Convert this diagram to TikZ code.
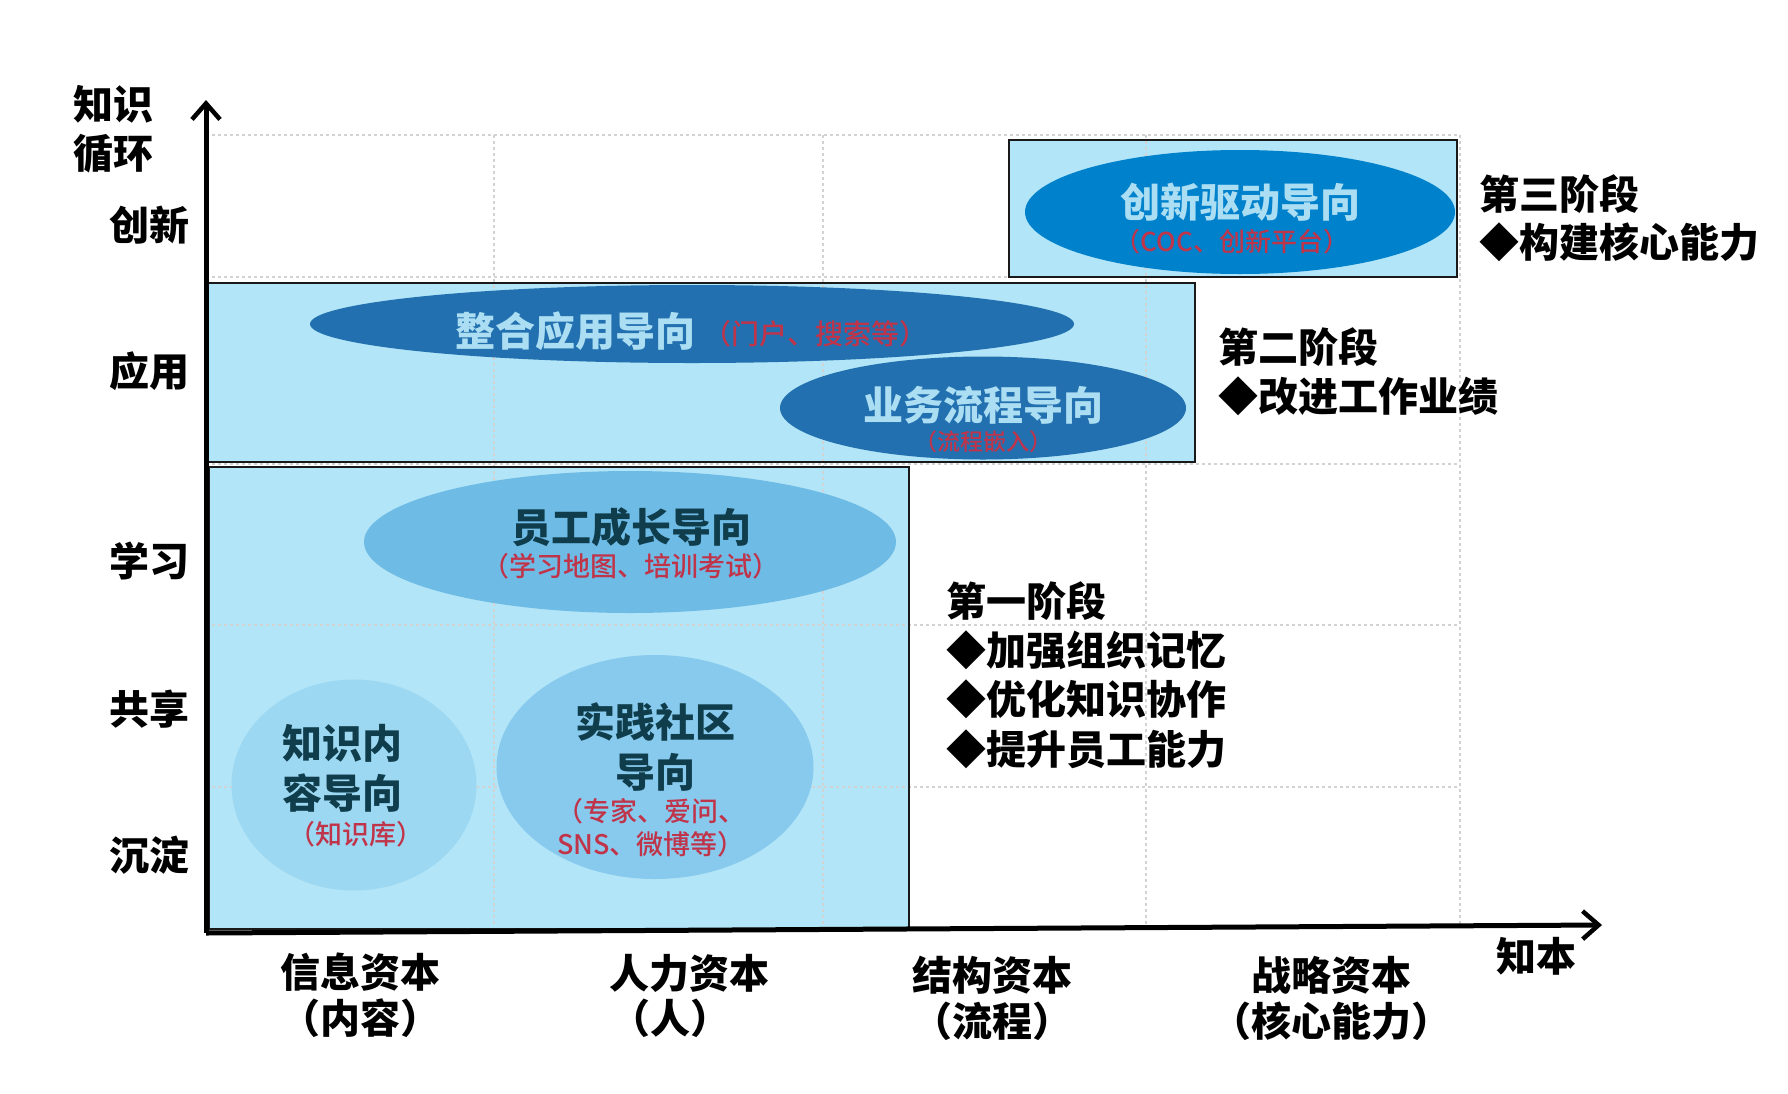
\documentclass[tikz,border=0pt]{standalone}
\usepackage{fontspec}
\setmainfont{Noto Sans CJK SC}
\IfFontExistsTF{Noto Sans CJK SC Medium}
  {\newfontfamily\subfont{Noto Sans CJK SC Medium}}
  {\newfontfamily\subfont{Noto Sans CJK SC}}
\usetikzlibrary{arrows.meta,shapes.geometric}
\definecolor{boxfill}{HTML}{B2E5F7}
\definecolor{gridc}{HTML}{D2D2D2}
\definecolor{ellA}{HTML}{0081CC}
\definecolor{ellB}{HTML}{2270B0}
\definecolor{ellC}{HTML}{6EBBE6}
\definecolor{ellD}{HTML}{9DD8F3}
\definecolor{ellE}{HTML}{88CAED}
\definecolor{lighttxt}{HTML}{ABDEF2}
\definecolor{darktxt}{HTML}{0F3D4C}
\definecolor{redtxt}{HTML}{C0344A}
\begin{document}
\begin{tikzpicture}[x=1pt,y=-1pt,
  big/.style={font=\bfseries\fontsize{40}{48}\selectfont, inner sep=0pt, align=center},
  bigl/.style={font=\bfseries\fontsize{40}{49}\selectfont, inner sep=0pt, align=left, anchor=west},
  sub/.style={font=\subfont\fontsize{26}{33}\selectfont, inner sep=0pt, align=center, text=redtxt},
  stagebox/.style={fill=boxfill, inner sep=0pt, anchor=north west},
  frame/.style={draw=black!90, line width=2pt},
  gridl/.style={draw=gridc, dashed, line width=1.5pt},
  oval/.style={ellipse, inner sep=0pt},
  axis/.style={line width=5pt, -{Straight Barb[length=16pt,width=28pt,line width=4.5pt]}}]
\useasboundingbox (0,0) rectangle (1788,1093);
% stage boxes (fill)
\node[stagebox, minimum width=448pt, minimum height=137pt] (s3) at (1009,140) {};
\node[stagebox, minimum width=989pt, minimum height=179pt] (s2) at (206,283) {};
\node[stagebox, minimum width=700pt, minimum height=462pt] (s1) at (209,467) {};
% grid
\foreach \yy in {135,277,464,625,787}
  \draw[gridl] (206,\yy) -- (1460,\yy);
\foreach \xx in {494,823,1146,1460}
  \draw[gridl] (\xx,135) -- (\xx,925);
% frames
\draw[frame] (s3.north west) rectangle (s3.south east);
\draw[frame] (s2.north west) rectangle (s2.south east);
\draw[frame] (s1.north west) rectangle (s1.south east);
% ellipses
\node[oval, fill=ellA, minimum width=430pt, minimum height=124pt] (e3) at (1240,212) {};
\node[oval, fill=ellB, minimum width=764pt, minimum height=78pt] (e2a) at (692,324) {};
\node[oval, fill=ellB, minimum width=406pt, minimum height=103pt] (e2b) at (983,408) {};
\node[oval, fill=ellC, minimum width=532pt, minimum height=142pt] (e1a) at (630,542) {};
\node[oval, fill=ellD, minimum width=245pt, minimum height=211pt] (e1b) at (354,785) {};
\node[oval, fill=ellE, minimum width=317pt, minimum height=224pt] (e1c) at (655,767) {};
% ellipse texts
\node[big, text=lighttxt] (t3) at (1240,202) {创新驱动导向};
\node[sub] (t3s) at (1232,242) {（COC、创新平台）};
\node[big, text=lighttxt] (t2a) at (575,331) {整合应用导向};
\node[sub, font=\subfont\fontsize{28}{33}\selectfont] (t2as) at (815,334) {（门户、搜索等）};
\node[big, text=lighttxt] (t2b) at (983,405) {业务流程导向};
\node[sub, font=\subfont\fontsize{23}{28}\selectfont] (t2bs) at (983,442) {（流程嵌入）};
\node[big, text=darktxt] (t1a) at (631,527) {员工成长导向};
\node[sub, font=\subfont\fontsize{27}{33}\selectfont] (t1as) at (631,566) {（学习地图、培训考试）};
\node[big, text=darktxt, font=\bfseries\fontsize{40}{50}\selectfont] (t1b) at (342,768) {知识内\\容导向};
\node[sub, font=\subfont\fontsize{27}{33}\selectfont] (t1bs) at (356,834) {（知识库）};
\node[big, text=darktxt, font=\bfseries\fontsize{40}{50}\selectfont] (t1c) at (655,747) {实践社区\\导向};
\node[sub, font=\subfont\fontsize{27}{33}\selectfont] (t1cs) at (651,828) {（专家、爱问、\\SNS、微博等）};
% axes
\coordinate (O) at (206,933);
\coordinate (ytip) at (206,100);
\coordinate (xtip) at (1602,925);
\draw[axis] (O) -- (ytip);
\draw[axis] (O) -- (xtip);
% axis labels
\node[bigl] (ylab) at (73,129) {知识\\循环};
\node[big, anchor=east] (y5) at (190,225) {创新};
\node[big, anchor=east] (y4) at (190,371) {应用};
\node[big, anchor=east] (y3) at (190,561) {学习};
\node[big, anchor=east] (y2) at (190,709) {共享};
\node[big, anchor=east] (y1) at (190,855) {沉淀};
\node[big, font=\bfseries\fontsize{40}{46}\selectfont] (x1) at (360,995) {信息资本\\（内容）};
\node[big] (x2) at (689,973) {人力资本};
\node[big] (x2b) at (670,1018) {（人）};
\node[big, font=\bfseries\fontsize{40}{46}\selectfont] (x3) at (992,998) {结构资本\\（流程）};
\node[big, font=\bfseries\fontsize{40}{46}\selectfont] (x4) at (1331,998) {战略资本\\（核心能力）};
\node[big] (xlab) at (1536,956) {知本};
% stage descriptions
\node[bigl, font=\bfseries\fontsize{40}{48}\selectfont] (d3) at (1479,218) {第三阶段\\◆构建核心能力};
\node[bigl, font=\bfseries\fontsize{40}{49}\selectfont] (d2) at (1218,372) {第二阶段\\◆改进工作业绩};
\node[bigl, font=\bfseries\fontsize{40}{49.3}\selectfont] (d1) at (946,675) {第一阶段\\◆加强组织记忆\\◆优化知识协作\\◆提升员工能力};
\end{tikzpicture}
\end{document}
